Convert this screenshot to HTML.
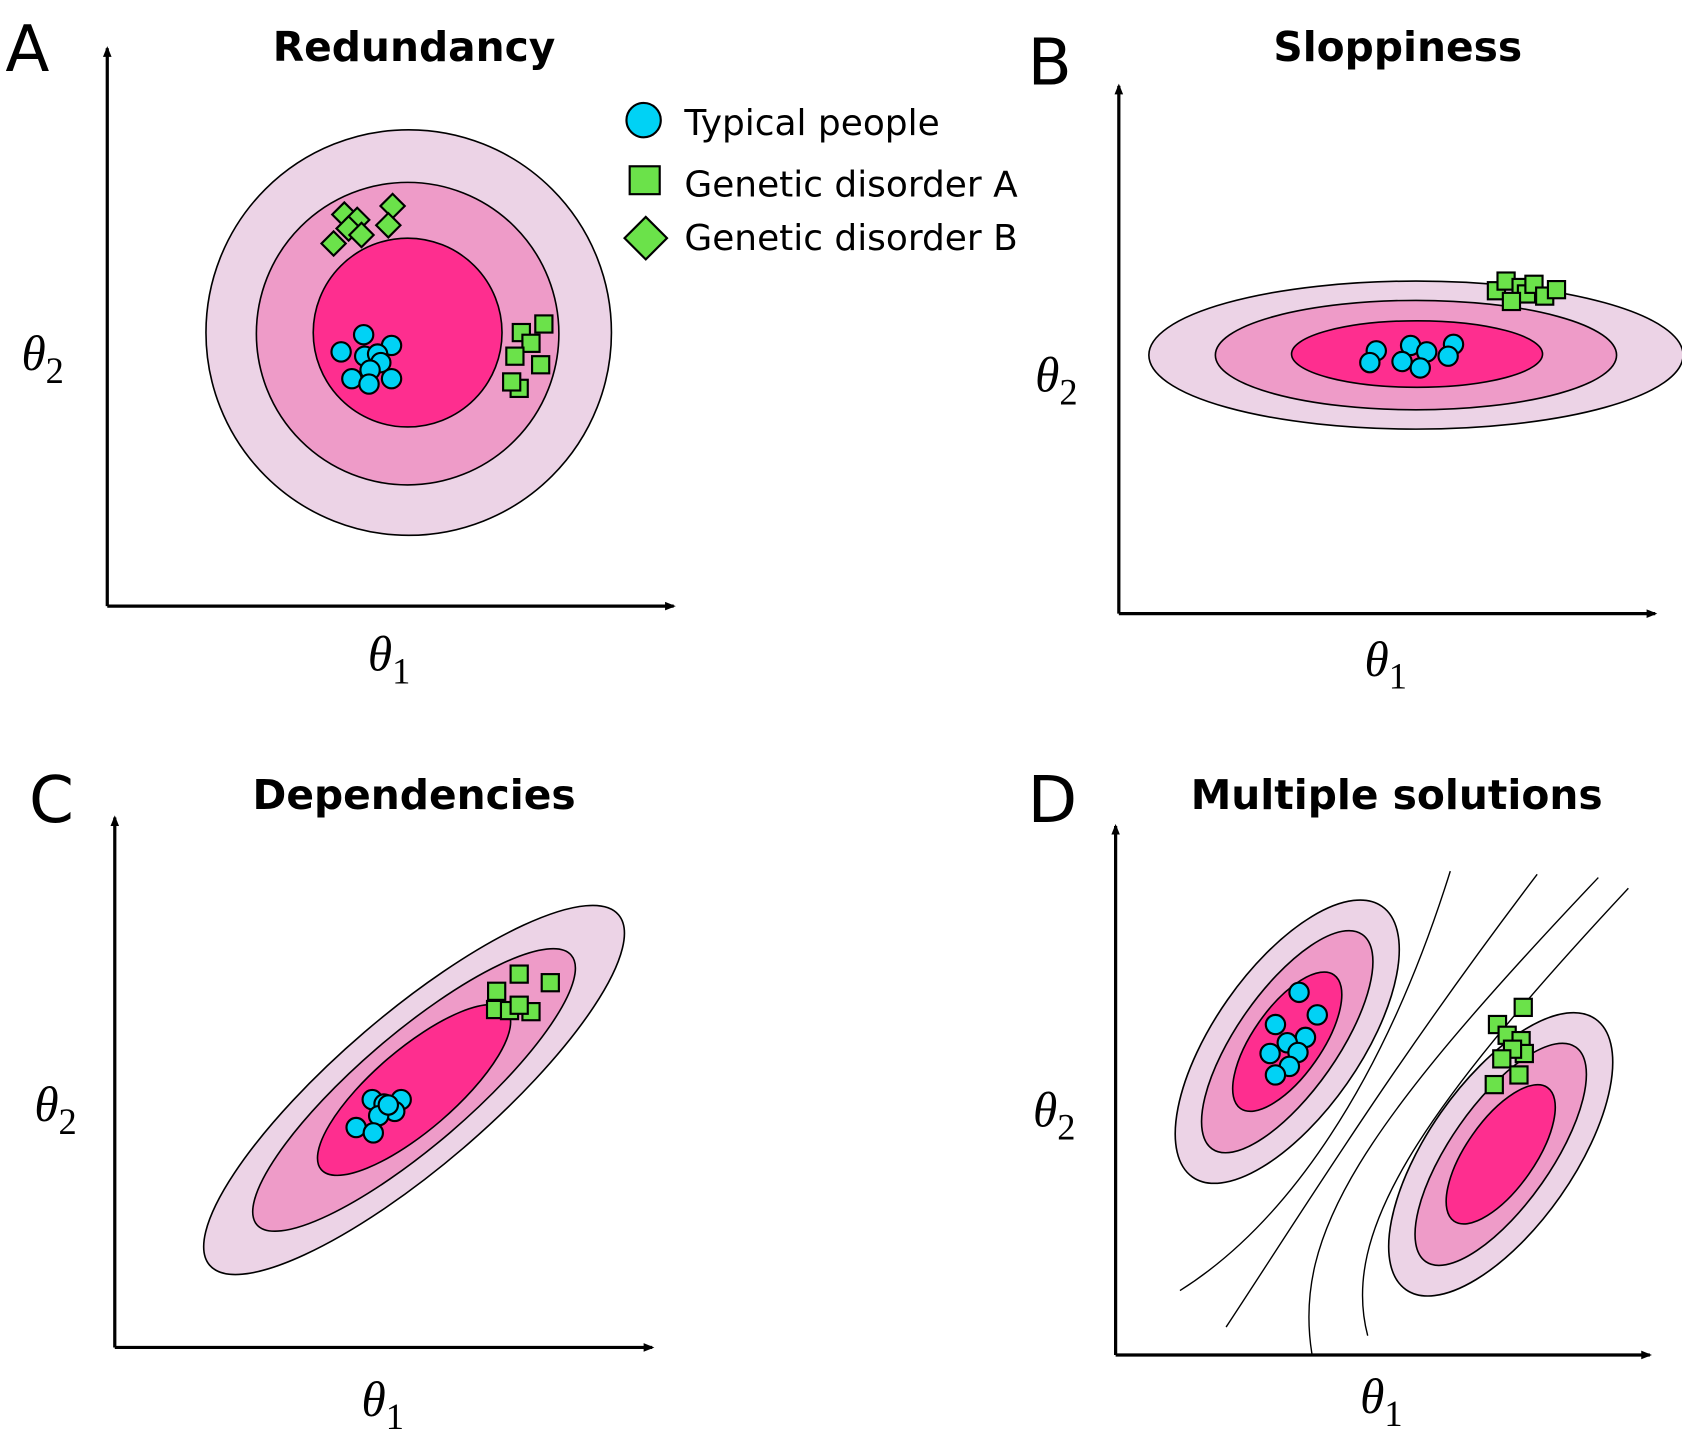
<!DOCTYPE html>
<html><head><meta charset="utf-8"><style>
html,body{margin:0;padding:0;background:#fff;}
svg{display:block;}
.t{font-family:"DejaVu Sans","Liberation Sans",sans-serif;font-weight:bold;font-size:38px;text-anchor:middle;}
.L{font-family:"DejaVu Sans","Liberation Sans",sans-serif;font-size:60px;}
.th{font-family:"Liberation Serif",serif;font-style:italic;font-size:46px;}
.sub{font-family:"Liberation Serif",serif;font-size:34px;font-style:normal;}
.lg{font-family:"DejaVu Sans","Liberation Sans",sans-serif;font-size:33.5px;}
.e1{fill:#ecd3e6;stroke:#000;stroke-width:1.5}
.e2{fill:#ee9bc8;stroke:#000;stroke-width:1.5}
.e3{fill:#fe2e8f;stroke:#000;stroke-width:1.5}
.c{fill:#00d2f5;stroke:#000;stroke-width:2}
.s{fill:#6be24a;stroke:#000;stroke-width:2}
.ax{stroke:#000;stroke-width:3;fill:none}
.cl{stroke:#000;stroke-width:1.3;fill:none}
</style></head><body>
<svg width="1682" height="1444" viewBox="0 0 1568 1346" preserveAspectRatio="none" xmlns="http://www.w3.org/2000/svg">
<defs>
<marker id="ar" markerWidth="10" markerHeight="10" refX="8" refY="5" orient="auto" markerUnits="userSpaceOnUse"><path d="M0,1 L10,5 L0,9 Z" fill="#000"/></marker>
<circle id="d" r="9" class="c"/>
<rect id="q" x="-8" y="-8" width="16" height="16" class="s"/>
<rect id="dm" x="-8" y="-8" width="16" height="16" class="s" transform="rotate(45)"/>
</defs>

<!-- Panel A -->
<text class="L" x="5" y="66">A</text>
<text class="t" x="386" y="57">Redundancy</text>
<path class="ax" d="M100,565 L100,45" marker-end="url(#ar)"/>
<path class="ax" d="M100,565 L628,565" marker-end="url(#ar)"/>
<text class="th" x="20" y="345">θ<tspan class="sub" dy="12">2</tspan></text>
<text class="th" x="343" y="625">θ<tspan class="sub" dy="12">1</tspan></text>
<ellipse class="e1" cx="381" cy="310" rx="189" ry="189"/>
<ellipse class="e2" cx="380" cy="311" rx="141" ry="141"/>
<ellipse class="e3" cx="380" cy="310" rx="88" ry="88"/>
<use href="#d" x="339" y="312"/><use href="#d" x="318" y="328"/><use href="#d" x="365" y="322"/><use href="#d" x="340" y="332"/><use href="#d" x="352" y="330"/><use href="#d" x="355" y="338"/><use href="#d" x="345" y="345"/><use href="#d" x="328" y="353"/><use href="#d" x="344" y="358"/><use href="#d" x="365" y="353"/>
<use href="#q" x="507" y="302"/><use href="#q" x="486" y="310"/><use href="#q" x="495" y="320"/><use href="#q" x="480" y="332"/><use href="#q" x="504" y="340"/><use href="#q" x="484" y="362"/><use href="#q" x="477" y="356"/>
<use href="#dm" x="366" y="192"/><use href="#dm" x="321" y="200"/><use href="#dm" x="333" y="205"/><use href="#dm" x="362" y="210"/><use href="#dm" x="325" y="213"/><use href="#dm" x="337" y="219"/><use href="#dm" x="311" y="227"/>
<!-- legend -->
<circle cx="600" cy="112" r="16" class="c"/>
<text class="lg" x="638" y="126">Typical people</text>
<rect x="587" y="155" width="28" height="26" class="s"/>
<text class="lg" x="638" y="183">Genetic disorder A</text>
<rect x="-14" y="-14" width="28" height="28" class="s" transform="translate(602,222) rotate(45)"/>
<text class="lg" x="638" y="233">Genetic disorder B</text>

<!-- Panel B -->
<text class="L" x="958" y="79">B</text>
<text class="t" x="1303" y="57">Sloppiness</text>
<path class="ax" d="M1043,572 L1043,80" marker-end="url(#ar)"/>
<path class="ax" d="M1043,572 L1543,572" marker-end="url(#ar)"/>
<text class="th" x="965" y="365">θ<tspan class="sub" dy="12">2</tspan></text>
<text class="th" x="1272" y="630">θ<tspan class="sub" dy="12">1</tspan></text>
<ellipse class="e1" cx="1320" cy="331" rx="249" ry="69"/>
<ellipse class="e2" cx="1320" cy="331" rx="187" ry="51"/>
<ellipse class="e3" cx="1321" cy="330" rx="117" ry="31"/>
<use href="#d" x="1283" y="327"/><use href="#d" x="1277" y="338"/><use href="#d" x="1315" y="322"/><use href="#d" x="1330" y="328"/><use href="#d" x="1307" y="337"/><use href="#d" x="1324" y="343"/><use href="#d" x="1355" y="321"/><use href="#d" x="1350" y="332"/>
<use href="#q" x="1395" y="271"/><use href="#q" x="1404" y="262"/><use href="#q" x="1418" y="268"/><use href="#q" x="1423" y="274"/><use href="#q" x="1430" y="265"/><use href="#q" x="1409" y="281"/><use href="#q" x="1440" y="276"/><use href="#q" x="1451" y="270"/>

<!-- Panel C -->
<text class="L" x="27" y="766">C</text>
<text class="t" x="386" y="754">Dependencies</text>
<path class="ax" d="M107,1256 L107,762" marker-end="url(#ar)"/>
<path class="ax" d="M107,1256 L608,1256" marker-end="url(#ar)"/>
<text class="th" x="32" y="1045">θ<tspan class="sub" dy="12">2</tspan></text>
<text class="th" x="337" y="1320">θ<tspan class="sub" dy="12">1</tspan></text>
<g transform="translate(386,1016) rotate(-40.6)">
<ellipse class="e1" cx="0" cy="0" rx="251" ry="71"/>
<ellipse class="e2" cx="0" cy="0" rx="193" ry="52"/>
<ellipse class="e3" cx="0" cy="0" rx="114" ry="38"/>
</g>
<use href="#d" x="347" y="1025"/><use href="#d" x="374" y="1025"/><use href="#d" x="358" y="1029"/><use href="#d" x="368" y="1036"/><use href="#d" x="353" y="1040"/><use href="#d" x="332" y="1051"/><use href="#d" x="348" y="1056"/><use href="#d" x="362" y="1030"/>
<use href="#q" x="484" y="908"/><use href="#q" x="513" y="916"/><use href="#q" x="463" y="924"/><use href="#q" x="462" y="941"/><use href="#q" x="475" y="942"/><use href="#q" x="495" y="943"/><use href="#q" x="484" y="937"/>

<!-- Panel D -->
<text class="L" x="958" y="766">D</text>
<text class="t" x="1302" y="754">Multiple solutions</text>
<path class="ax" d="M1040,1263 L1040,770" marker-end="url(#ar)"/>
<path class="ax" d="M1040,1263 L1538,1263" marker-end="url(#ar)"/>
<text class="th" x="963" y="1050">θ<tspan class="sub" dy="12">2</tspan></text>
<text class="th" x="1268" y="1317">θ<tspan class="sub" dy="12">1</tspan></text>
<path class="cl" d="M1100,1203 C1200,1140 1290,1010 1352,812"/>
<path class="cl" d="M1143,1237 C1220,1120 1300,990 1433,815"/>
<path class="cl" d="M1223,1262 C1205,1150 1270,1050 1490,818"/>
<path class="cl" d="M1275,1245 C1250,1150 1320,1040 1518,828"/>
<g transform="translate(1200,971) rotate(-55)">
<ellipse class="e1" cx="0" cy="0" rx="154" ry="68"/>
<ellipse class="e2" cx="0" cy="0" rx="122" ry="47"/>
<ellipse class="e3" cx="0" cy="0" rx="76" ry="32"/>
</g>
<g transform="translate(1399,1076) rotate(-55)">
<ellipse class="e1" cx="0" cy="0" rx="154" ry="68"/>
<ellipse class="e2" cx="0" cy="0" rx="122" ry="47"/>
<ellipse class="e3" cx="0" cy="0" rx="76" ry="32"/>
</g>
<use href="#d" x="1211" y="925"/><use href="#d" x="1228" y="946"/><use href="#d" x="1189" y="955"/><use href="#d" x="1217" y="967"/><use href="#d" x="1200" y="972"/><use href="#d" x="1184" y="982"/><use href="#d" x="1210" y="981"/><use href="#d" x="1202" y="994"/><use href="#d" x="1189" y="1002"/>
<use href="#q" x="1420" y="939"/><use href="#q" x="1396" y="955"/><use href="#q" x="1405" y="965"/><use href="#q" x="1418" y="970"/><use href="#q" x="1421" y="982"/><use href="#q" x="1410" y="978"/><use href="#q" x="1400" y="987"/><use href="#q" x="1416" y="1002"/><use href="#q" x="1393" y="1011"/>
</svg>
</body></html>
